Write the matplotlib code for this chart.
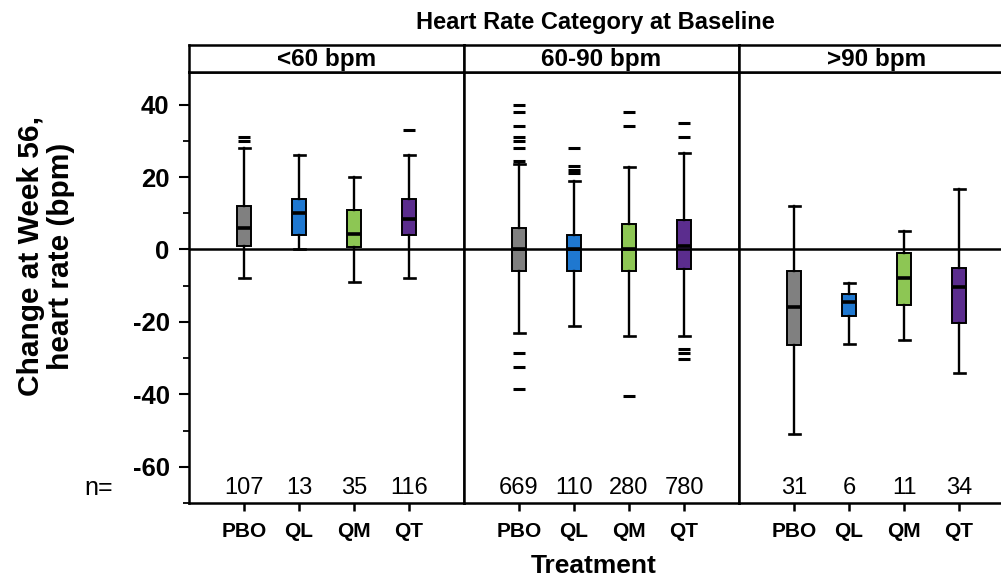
import matplotlib.pyplot as plt
from matplotlib.ticker import MultipleLocator

plt.rcParams['font.family'] = ['Liberation Sans', 'DejaVu Sans']
plt.rcParams['font.weight'] = 'bold'
plt.rcParams['axes.unicode_minus'] = False

# baseline heart-rate groups and treatment arms
categories = ['<60 bpm', '60-90 bpm', '>90 bpm']
treatments = ['PBO', 'QL', 'QM', 'QT']
arm_colors = ['#808080', '#1f78d0', '#8dc654', '#5b2d8e']

n_counts = [[107, 13, 35, 116],
            [669, 110, 280, 780],
            [31, 6, 11, 34]]

# box-plot summaries per group (rows) and arm (columns), change in bpm
q1 = [[1, 4, 0.7, 4],
      [-6, -6, -6, -5.5],
      [-26.4, -18.3, -15.4, -20.4]]
median = [[6, 10, 4.2, 8.4],
          [0, 0, 0, 1],
          [-16, -14.5, -8, -10.3]]
q3 = [[12, 14, 11, 14],
      [6, 4, 7, 8],
      [-6, -12.2, -1, -5.1]]
whisker_lo = [[-8, 0, -9, -8],
              [-23, -21, -24, -24],
              [-51, -26, -25, -34]]
whisker_hi = [[28, 26, 20, 26],
              [23.5, 18.8, 22.7, 26.6],
              [12, -9.2, 5, 16.7]]
outliers = [[[30, 31], [], [], [33]],
            [[40, 38, 34, 31, 30, 28, 24.5, -28.5, -32.5, -38.5],
             [28, 23, 22, 21],
             [38, 34, -40.5],
             [35, 31, -27.5, -28.5, -30.3]],
            [[], [], [], []]]

W, H = 1001, 577
left0, panel_w = 189, 275
top, bottom, strip_top = 72, 503, 45

fig = plt.figure(figsize=(W / 100, H / 100), dpi=100)
positions = [1, 2, 3, 4]

for i, cat in enumerate(categories):
    x0 = left0 + i * panel_w
    ax = fig.add_axes([x0 / W, 1 - bottom / H, panel_w / W, (bottom - top) / H])
    sax = fig.add_axes([x0 / W, 1 - top / H, panel_w / W, (top - strip_top) / H])

    stats = []
    for j in range(len(treatments)):
        stats.append(dict(med=median[i][j], q1=q1[i][j], q3=q3[i][j],
                          whislo=whisker_lo[i][j], whishi=whisker_hi[i][j],
                          fliers=outliers[i][j]))

    bp = ax.bxp(stats, positions=positions, widths=0.24, capwidths=0.2,
                patch_artist=True, manage_ticks=False,
                boxprops=dict(edgecolor='black', linewidth=1.4),
                whiskerprops=dict(color='black', linewidth=1.7),
                capprops=dict(color='black', linewidth=1.9),
                medianprops=dict(color='black', linewidth=2.6),
                flierprops=dict(marker='_', markersize=9, markeredgewidth=2.2,
                                markeredgecolor='black'))
    for patch, c in zip(bp['boxes'], arm_colors):
        patch.set_facecolor(c)

    ax.axhline(0, color='black', linewidth=1.8, zorder=5)

    ax.set_xlim(0, 5)
    ax.set_ylim(-70, 49)
    ax.set_xticks(positions)
    ax.set_xticklabels(treatments, fontsize=15, fontweight='bold')
    ax.tick_params(axis='x', length=6, width=1.8, pad=8, direction='out')

    if i == 0:
        ax.yaxis.set_major_locator(MultipleLocator(20))
        ax.yaxis.set_minor_locator(MultipleLocator(10))
        ax.tick_params(axis='y', which='major', length=7, width=1.5,
                       labelsize=18.5, pad=7)
        ax.tick_params(axis='y', which='minor', length=4, width=1.3)
    else:
        ax.tick_params(axis='y', which='both', left=False, labelleft=False)

    for sp in ax.spines.values():
        sp.set_linewidth(1.8)

    for pos, n in zip(positions, n_counts[i]):
        ax.text(pos, -65.8, str(n), ha='center', va='center', fontsize=17,
                fontweight='normal')

    sax.set_xticks([])
    sax.set_yticks([])
    for sp in sax.spines.values():
        sp.set_linewidth(1.8)
    sax.text(0.5, 0.45, cat, ha='center', va='center', fontsize=17.5,
             fontweight='bold', transform=sax.transAxes)

fig.text(595 / W, 1 - 22 / H, 'Heart Rate Category at Baseline',
         ha='center', va='center', fontsize=17, fontweight='bold')
fig.text(594 / W, 1 - 566 / H, 'Treatment', ha='center', va='center',
         fontsize=19, fontweight='bold')
fig.text(46 / W, 1 - 256 / H, 'Change at Week 56,\nheart rate (bpm)',
         ha='center', va='center', rotation=90, fontsize=21.5,
         fontweight='bold', linespacing=1.05)
fig.text(99 / W, 1 - 488 / H, 'n=', ha='center', va='center', fontsize=18,
         fontweight='normal')

fig.savefig('out.png', dpi=100)
